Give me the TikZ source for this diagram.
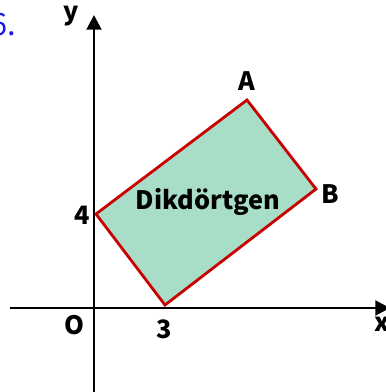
\documentclass[tikz,border=0pt]{standalone}
\usepackage{fontspec}
\setmainfont{Noto Sans CJK JP}
\usetikzlibrary{arrows.meta}
\definecolor{rectfill}{RGB}{168,221,200}
\definecolor{rectline}{RGB}{200,0,0}
\definecolor{numblue}{RGB}{25,25,240}
\begin{document}
\begin{tikzpicture}[x=0.75pt, y=-0.75pt, font=\fontsize{19}{22}\selectfont\bfseries,
    axis/.style={line width=2.2pt, -{Triangle[length=11pt, width=11pt]}},
    lbl/.style={inner sep=0pt, anchor=center}]
  \useasboundingbox (0,0) rectangle (385,392);
  % axes
  \coordinate (xstart) at (10,308);
  \coordinate (xend) at (390,308);
  \coordinate (ystart) at (94,398);
  \coordinate (yend) at (94,15);
  \draw[axis] (xstart) -- (xend);
  \draw[axis] (ystart) -- (yend);
  % rectangle corners
  \coordinate (P4) at (96,214);
  \coordinate (P3) at (165,305);
  \coordinate (B) at (316,189);
  \coordinate (A) at (247,100);
  \filldraw[fill=rectfill, draw=rectline, line width=2.1pt, line join=miter]
    (P4) -- (P3) -- (B) -- (A) -- cycle;
  % labels
  \node[lbl] (ylbl) at (71,16) {y};
  \node[lbl] (xlbl) at (382,324) {x};
  \node[lbl] (olbl) at (74,325) {O};
  \node[lbl] (four) at (82,215) {4};
  \node[lbl] (three) at (164,329) {3};
  \node[lbl] (albl) at (247,81) {A};
  \node[lbl] (blbl) at (330,194) {B};
  \node[lbl] (name) at (208,202) {Dikdörtgen};
  \node[lbl, text=numblue, font=\fontsize{23}{26}\selectfont, anchor=east] (num) at (16,25) {6.};
\end{tikzpicture}
\end{document}
